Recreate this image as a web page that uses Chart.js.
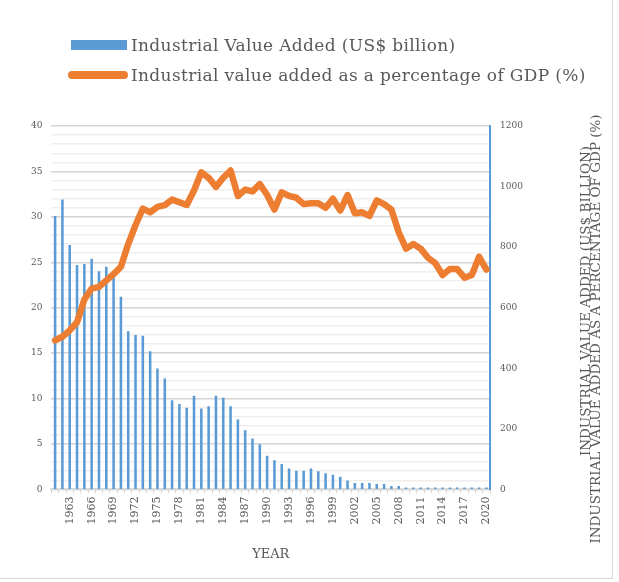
<!DOCTYPE html>
<html>
<head>
<meta charset="utf-8">
<script src="https://cdn.jsdelivr.net/npm/chart.js@4.4.0/dist/chart.umd.min.js"></script>
<style>
  html, body { margin: 0; padding: 0; background: #fff; }
  #wrap { position: relative; width: 612px; height: 578px; border-right: 1px solid #d6d6d6; border-bottom: 1px solid #d6d6d6; }
  #legend { position: absolute; left: 0; top: 0; width: 612px; font-family: "DejaVu Serif", serif; font-size: 17px; letter-spacing: 0.35px; color: #595959; }
  .swatch { position: absolute; }
  .txt { position: absolute; line-height: 20px; white-space: nowrap; }
</style>
</head>
<body>
<div id="wrap">
  <canvas id="chart" width="612" height="578"></canvas>
  <div id="legend"></div>
</div>
<script>
var years = [1961, 1962, 1963, 1964, 1965, 1966, 1967, 1968, 1969, 1970,
             1971, 1972, 1973, 1974, 1975, 1976, 1977, 1978, 1979, 1980,
             1981, 1982, 1983, 1984, 1985, 1986, 1987, 1988, 1989, 1990,
             1991, 1992, 1993, 1994, 1995, 1996, 1997, 1998, 1999, 2000,
             2001, 2002, 2003, 2004, 2005, 2006, 2007, 2008, 2009, 2010,
             2011, 2012, 2013, 2014, 2015, 2016, 2017, 2018, 2019, 2020];

// US$ billion, right axis
var valueAdded = [903, 957, 807, 741, 744, 762, 720, 735, 708, 636,
                  522, 510, 507, 456, 399, 366, 294, 282, 270, 309,
                  267, 275, 309, 303, 275, 231, 195, 168, 149, 111,
                  96, 84, 69, 62, 62, 69, 60, 53, 48, 42,
                  29, 21, 21, 21, 18, 18, 11, 11, 6, 6,
                  6, 6, 6, 6, 6, 6, 6, 6, 6, 6];

// % of GDP, left axis
var shareOfGdp = [16.4, 16.8, 17.5, 18.4, 20.9, 22.1, 22.3, 23.0, 23.7, 24.5,
                  27.0, 29.1, 30.9, 30.5, 31.1, 31.3, 31.9, 31.6, 31.3, 32.9,
                  34.9, 34.3, 33.3, 34.3, 35.1, 32.3, 33.0, 32.8, 33.6, 32.4,
                  30.8, 32.7, 32.3, 32.1, 31.4, 31.5, 31.5, 31.0, 32.0, 30.7,
                  32.4, 30.4, 30.5, 30.1, 31.8, 31.4, 30.8, 28.3, 26.5, 27.0,
                  26.5, 25.5, 24.9, 23.6, 24.25, 24.25, 23.3, 23.6, 25.6, 24.2];

var seriesLabels = ['Industrial Value Added (US$ billion)',
                    'Industrial value added as a percentage of GDP (%)'];
var rightTitleLines = ['INDUSTRIAL VALUE ADDED (US$ BILLION)',
                       'INDUSTRIAL VALUE ADDED AS A PERCENTAGE OF GDP (%)'];
var xTitle = 'YEAR';

var barColor = '#5b9bd5';
var lineColor = '#ed7d31';
var textColor = '#595959';
var serif = '"DejaVu Serif", serif';

// html legend, one row per series
var legendEl = document.getElementById('legend');
function addLegendItem(top, swatchCss, text) {
    var sw = document.createElement('div');
    sw.className = 'swatch';
    sw.style.cssText = swatchCss;
    legendEl.appendChild(sw);
    var t = document.createElement('div');
    t.className = 'txt';
    t.style.left = '131px';
    t.style.top = (top - 10) + 'px';
    t.textContent = text;
    legendEl.appendChild(t);
}
addLegendItem(45, 'left:71px;top:40px;width:56px;height:10px;background:' + barColor, seriesLabels[0]);
addLegendItem(75, 'left:68px;top:71px;width:60px;height:8px;border-radius:4px;background:' + lineColor, seriesLabels[1]);

// right axis title reads bottom-to-top, drawn by hand
var rightTitlePlugin = {
    id: 'rightTitle',
    afterDraw: function(chart) {
        var ctx = chart.ctx;
        var area = chart.chartArea;
        var spots = [[area.right + 96, 301], [area.right + 106, 329]];
        ctx.save();
        ctx.fillStyle = textColor;
        ctx.font = '13.5px ' + serif;
        ctx.textAlign = 'center';
        ctx.textBaseline = 'middle';
        for (var i = 0; i < rightTitleLines.length; i++) {
            ctx.save();
            ctx.translate(spots[i][0], spots[i][1]);
            ctx.rotate(-Math.PI / 2);
            ctx.fillText(rightTitleLines[i], 0, 0);
            ctx.restore();
        }
        ctx.restore();
    }
};

new Chart(document.getElementById('chart'), {
    data: {
        labels: years,
        datasets: [{
            type: 'bar',
            label: seriesLabels[0],
            data: valueAdded,
            yAxisID: 'y1',
            backgroundColor: barColor,
            barPercentage: 0.35,
            categoryPercentage: 1,
            order: 2
        }, {
            type: 'line',
            label: seriesLabels[1],
            data: shareOfGdp,
            yAxisID: 'y',
            borderColor: lineColor,
            backgroundColor: lineColor,
            borderWidth: 6.5,
            pointRadius: 0,
            tension: 0,
            borderJoinStyle: 'round',
            borderCapStyle: 'round',
            order: 1
        }]
    },
    options: {
        responsive: false,
        animation: false,
        devicePixelRatio: 1,
        layout: { padding: { top: 126, left: 22, right: 79, bottom: 16 } },
        plugins: {
            legend: { display: false },
            tooltip: { enabled: false }
        },
        scales: {
            x: {
                grid: { drawOnChartArea: false, drawTicks: true, tickLength: 4, color: '#d9d9d9' },
                border: { color: '#d9d9d9', width: 2 },
                ticks: {
                    autoSkip: false,
                    minRotation: 90,
                    maxRotation: 90,
                    padding: 3,
                    color: textColor,
                    font: { family: serif, size: 11 },
                    callback: function(v, i) {
                        return (years[i] - 1963) % 3 === 0 ? String(years[i]) : '';
                    }
                },
                title: {
                    display: true,
                    text: xTitle,
                    color: textColor,
                    font: { family: serif, size: 13 },
                    padding: { top: 19, bottom: 0 }
                }
            },
            y: {
                position: 'left',
                min: 0,
                max: 40,
                border: { display: false },
                grid: {
                    drawTicks: false,
                    color: function(c) { return c.tick.value % 5 === 0 ? '#d4d4d4' : '#efefef'; },
                    lineWidth: 1.5
                },
                ticks: {
                    stepSize: 1,
                    autoSkip: false,
                    padding: 9,
                    color: textColor,
                    font: { family: serif, size: 9 },
                    callback: function(v) { return v % 5 === 0 ? v : ''; }
                }
            },
            y1: {
                position: 'right',
                min: 0,
                max: 1200,
                border: { color: barColor, width: 2 },
                grid: { drawOnChartArea: false, drawTicks: false },
                ticks: {
                    stepSize: 200,
                    padding: 10,
                    color: textColor,
                    font: { family: serif, size: 9 },
                    callback: function(v) { return String(v); }
                }
            }
        }
    },
    plugins: [rightTitlePlugin]
});
</script>
</body>
</html>
